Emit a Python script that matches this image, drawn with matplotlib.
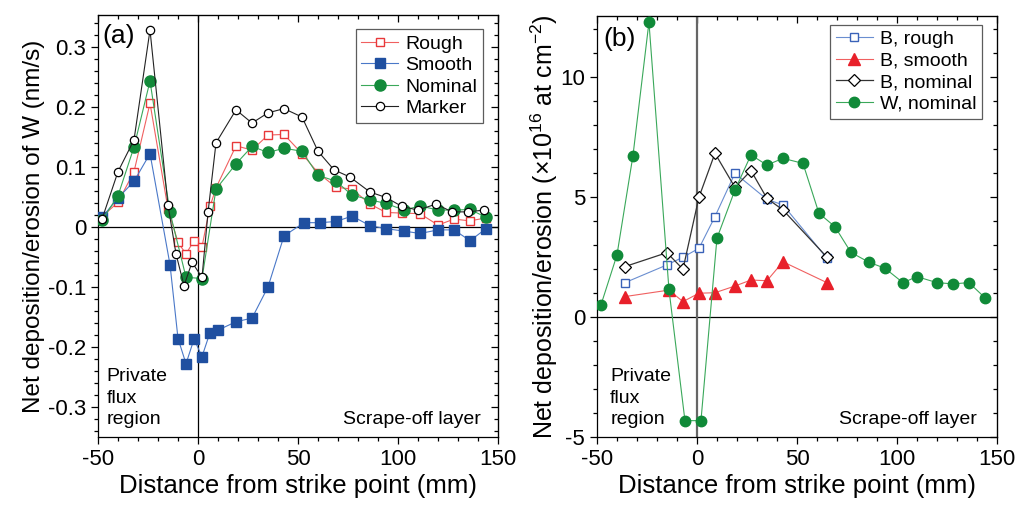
import matplotlib
matplotlib.use("Agg")
import matplotlib.pyplot as plt
from matplotlib.ticker import MultipleLocator, FuncFormatter

plt.rcParams['font.family'] = ['Liberation Sans', 'DejaVu Sans']
plt.rcParams['mathtext.default'] = 'regular'
plt.rcParams['axes.unicode_minus'] = False

# panel (a): W net deposition/erosion (nm/s)
rough_x = [-48, -40, -32, -24, -15, -10, -6, -2, 2, 6, 9, 19, 27, 35, 43, 52, 60, 69, 77, 86, 94, 102, 111, 120, 128, 136, 144]
rough_y = [0.017, 0.041, 0.092, 0.206, 0.03, -0.026, -0.045, -0.023, -0.033, 0.034, 0.065, 0.135, 0.128, 0.153, 0.154,
           0.122, 0.09, 0.066, 0.063, 0.038, 0.024, 0.023, 0.022, 0.003, 0.013, 0.01, 0.015]
smooth_x = [-48, -40, -32, -24, -14, -10, -6, -2, 2, 6, 10, 19, 27, 35, 43, 53, 61, 69, 77, 86, 94, 103, 111, 120, 128, 136, 144]
smooth_y = [0.016, 0.048, 0.076, 0.122, -0.063, -0.186, -0.228, -0.187, -0.216, -0.176, -0.172, -0.158, -0.152, -0.1, -0.015,
            0.007, 0.007, 0.009, 0.018, 0.002, -0.003, -0.007, -0.011, -0.005, -0.005, -0.023, -0.003]
nominal_x = [-48, -40, -32, -24, -14, -6, 2, 9, 19, 27, 35, 43, 52, 60, 69, 77, 86, 94, 103, 111, 120, 128, 136, 144]
nominal_y = [0.011, 0.052, 0.133, 0.243, 0.024, -0.084, -0.086, 0.063, 0.105, 0.134, 0.124, 0.131, 0.126, 0.086, 0.076,
             0.053, 0.045, 0.039, 0.028, 0.035, 0.028, 0.028, 0.029, 0.016]
marker_x = [-48, -40, -32, -24, -15, -11, -7, -3, 2, 5, 9, 19, 27, 35, 43, 52, 60, 68, 76, 86, 94, 102, 110, 119, 127, 135, 143]
marker_y = [0.013, 0.092, 0.145, 0.328, 0.036, -0.045, -0.098, -0.059, -0.084, 0.024, 0.14, 0.195, 0.173, 0.19, 0.197,
            0.183, 0.126, 0.095, 0.083, 0.058, 0.049, 0.034, 0.028, 0.038, 0.025, 0.025, 0.028]

# panel (b): B and W deposition (1e16 at/cm2)
br_x = [-36, -15, -7, 1, 9, 19, 35, 43, 65]
br_y = [1.43, 2.17, 2.49, 2.86, 4.18, 5.99, 4.9, 4.67, 2.45]
bs_x = [-36, -14, -7, 1, 9, 19, 27, 35, 43, 65]
bs_y = [0.85, 1.12, 0.64, 0.99, 1.01, 1.29, 1.54, 1.51, 2.3, 1.43]
bn_x = [-36, -15, -7, 1, 9, 19, 27, 35, 43, 65]
bn_y = [2.1, 2.68, 1.99, 4.99, 6.82, 5.4, 6.1, 4.94, 4.46, 2.49]
w_x = [-48, -40, -32, -24, -14, -6, 2, 10, 19, 27, 35, 43, 53, 61, 69, 77, 86, 94, 103, 110, 120, 128, 136, 144]
w_y = [0.5, 2.58, 6.72, 12.28, 1.15, -4.32, -4.32, 3.28, 5.29, 6.75, 6.33, 6.61, 6.4, 4.32, 3.76, 2.69, 2.28, 2.03,
       1.43, 1.68, 1.43, 1.38, 1.43, 0.8]

TICK = 16
XLABEL = 18.5
NOTE = 14
LEGEND = 14


def num_fmt(v, pos):
    if abs(v) < 1e-9:
        return "0"
    return ("%g" % round(v, 3))


def setup_axes(ax, ymajor, yminor):
    ax.set_xlim(-50, 150)
    ax.xaxis.set_major_locator(MultipleLocator(50))
    ax.xaxis.set_minor_locator(MultipleLocator(10))
    ax.yaxis.set_major_locator(MultipleLocator(ymajor))
    ax.yaxis.set_minor_locator(MultipleLocator(yminor))
    ax.yaxis.set_major_formatter(FuncFormatter(num_fmt))
    ax.tick_params(which='both', direction='out', top=False, right=False, labelsize=TICK, width=0.9)
    ax.tick_params(which='major', length=5)
    ax.tick_params(which='minor', length=3)
    for s in ax.spines.values():
        s.set_linewidth(0.9)
    top = ax.secondary_xaxis('top')
    top.xaxis.set_major_locator(MultipleLocator(50))
    top.xaxis.set_minor_locator(MultipleLocator(10))
    top.tick_params(which='both', direction='in', labeltop=False, width=0.9)
    top.tick_params(which='major', length=5)
    top.tick_params(which='minor', length=3)
    right = ax.secondary_yaxis('right')
    right.yaxis.set_major_locator(MultipleLocator(ymajor))
    right.yaxis.set_minor_locator(MultipleLocator(yminor))
    right.tick_params(which='both', direction='in', labelright=False, width=0.9)
    right.tick_params(which='major', length=5)
    right.tick_params(which='minor', length=3)
    ax.set_xlabel("Distance from strike point (mm)", fontsize=XLABEL, labelpad=3)


def add_legend(ax, anchor):
    leg = ax.legend(loc='upper right', bbox_to_anchor=anchor, fontsize=LEGEND, frameon=True, fancybox=False,
                    edgecolor='#333333', handlelength=1.9, labelspacing=0.2, borderpad=0.3, handletextpad=0.35,
                    borderaxespad=0.0)
    leg.get_frame().set_linewidth(0.9)


fig = plt.figure(figsize=(10.22, 5.08), dpi=100)
axa = fig.add_axes([0.0959, 0.1398, 0.3914, 0.8307])
axb = fig.add_axes([0.5841, 0.1398, 0.3914, 0.8287])

# ---- (a)
axa.axhline(0, color='black', lw=0.9, zorder=1)
axa.axvline(0, color='black', lw=0.9, zorder=1)
axa.plot(rough_x, rough_y, '-s', color='#f06060', lw=0.8, ms=5.5, mfc='white', mec='#e8383a', mew=1.0,
         label='Rough', zorder=3)
axa.plot(smooth_x, smooth_y, '-s', color='#4a78c8', lw=0.8, ms=6.5, mfc='#1f4fa0', mec='#1f4fa0',
         label='Smooth', zorder=3)
axa.plot(nominal_x, nominal_y, '-o', color='#3aa85a', lw=0.8, ms=8, mfc='#138a3a', mec='#138a3a',
         label='Nominal', zorder=4)
axa.plot(marker_x, marker_y, '-o', color='#222222', lw=0.8, ms=6, mfc='white', mec='black', mew=0.9,
         label='Marker', zorder=5)
axa.set_ylim(-0.35, 0.353)
setup_axes(axa, 0.1, 0.02)
axa.set_ylabel("Net deposition/erosion of W (nm/s)", fontsize=17.5, labelpad=2)
axa.text(0.012, 0.978, "(a)", transform=axa.transAxes, fontsize=19, va='top', ha='left')
axa.text(0.022, 0.03, "Private\nflux\nregion", transform=axa.transAxes, fontsize=NOTE, va='baseline', ha='left',
         linespacing=1.35)
axa.text(0.957, 0.03, "Scrape-off layer", transform=axa.transAxes, fontsize=NOTE, va='baseline', ha='right')
add_legend(axa, (0.962, 0.966))

# ---- (b)
axb.axhline(0, color='black', lw=0.9, zorder=1)
axb.axvline(0, color='#666666', lw=1.6, zorder=1)
axb.plot(br_x, br_y, '-s', color='#6a8ed0', lw=0.8, ms=6, mfc='white', mec='#3a62b8', mew=1.0,
         label='B, rough', zorder=3)
axb.plot(bs_x, bs_y, '-^', color='#f06060', lw=0.8, ms=8, mfc='#e8202a', mec='#e8202a',
         label='B, smooth', zorder=3)
axb.plot(bn_x, bn_y, '-D', color='#333333', lw=0.9, ms=6.5, mfc='white', mec='black', mew=0.9,
         label='B, nominal', zorder=4)
axb.plot(w_x, w_y, '-o', color='#3aa85a', lw=0.8, ms=7.5, mfc='#108a38', mec='#108a38',
         label='W, nominal', zorder=5)
axb.set_ylim(-5, 12.54)
setup_axes(axb, 5, 1)
axb.set_ylabel("Net deposition/erosion (\u00d710$^{16}$ at cm$^{-2}$)", fontsize=18, labelpad=0)
axb.text(0.015, 0.975, "(b)", transform=axb.transAxes, fontsize=19, va='top', ha='left')
axb.text(0.033, 0.03, "Private\nflux\nregion", transform=axb.transAxes, fontsize=NOTE, va='baseline', ha='left',
         linespacing=1.35)
axb.text(0.95, 0.03, "Scrape-off layer", transform=axb.transAxes, fontsize=NOTE, va='baseline', ha='right')
add_legend(axb, (0.9625, 0.979))

fig.savefig("out.png", dpi=100)
